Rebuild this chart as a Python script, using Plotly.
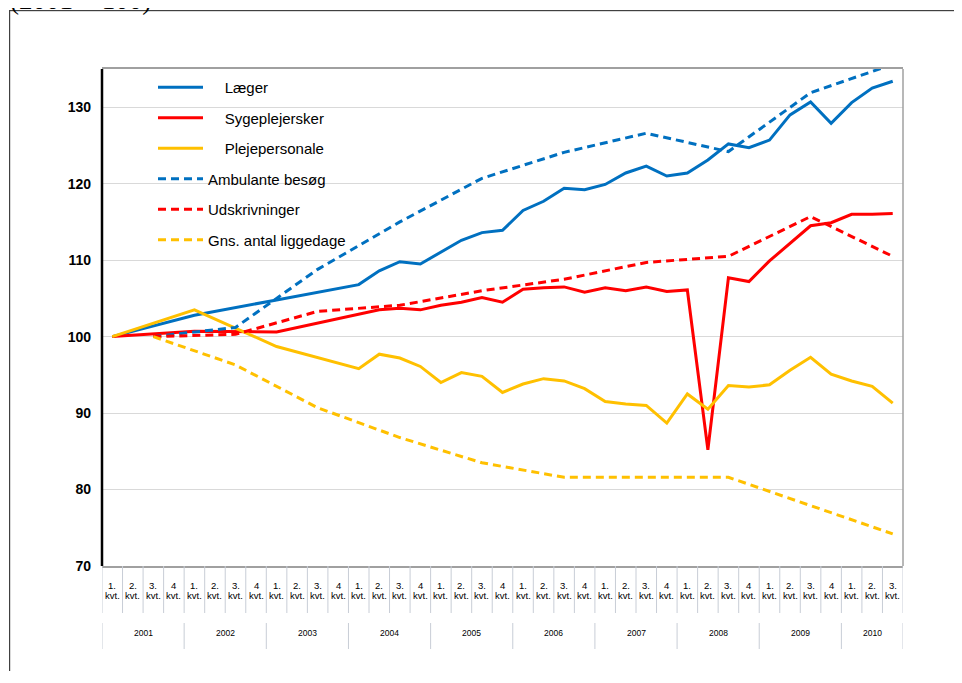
import plotly.graph_objects as go

# ---------------- data ----------------
years = [2001, 2002, 2003, 2004, 2005, 2006, 2007, 2008, 2009, 2010]
quarters_per_year = [4, 4, 4, 4, 4, 4, 4, 4, 4, 3]
quarter_labels = ["1.", "2.", "3.", "4"]
quarter_suffix = "kvt."

laeger = [100, None, None, None, 102.8, None, None, None, 104.8, None, None, None,
          106.8, 108.6, 109.8, 109.5, 111.0, 112.6, 113.6, 113.9, 116.5, 117.7,
          119.4, 119.2, 119.9, 121.4, 122.3, 121.0, 121.4, 123.1, 125.2, 124.7,
          125.7, 129.0, 130.7, 127.9, 130.6, 132.5, 133.4]
sygeplejersker = [100, None, None, None, 100.7, None, None, None, 100.6, None, None, None,
                  103.0, 103.5, 103.7, 103.5, 104.1, 104.5, 105.1, 104.5, 106.2, 106.4,
                  106.5, 105.8, 106.4, 106.0, 106.5, 105.9, 106.1, 85.2, 107.7, 107.2,
                  109.9, 112.2, 114.5, 114.9, 116.0, 116.0, 116.1]
plejepersonale = [100, None, None, None, 103.5, None, None, None, 98.7, None, None, None,
                  95.8, 97.7, 97.2, 96.1, 94.0, 95.3, 94.8, 92.7, 93.8, 94.5,
                  94.2, 93.2, 91.5, 91.2, 91.0, 88.7, 92.5, 90.5, 93.6, 93.4,
                  93.7, 95.6, 97.3, 95.1, 94.2, 93.5, 91.3]
ambulante = [None, None, 100, None, None, None, 101.2, None, None, None, 108.8, None,
             None, None, 115.0, None, None, None, 120.7, None, None, None, 124.1, None,
             None, None, 126.6, None, None, None, 124.2, None, None, None, 131.9, None,
             None, None, 135.6]
udskrivninger = [None, None, 100, None, None, None, 100.3, None, None, None, 103.3, None,
                 None, None, 104.1, None, None, None, 106.0, None, None, None, 107.5, None,
                 None, None, 109.7, None, None, None, 110.5, None, None, None, 115.7, None,
                 None, None, 110.5]
liggedage = [None, None, 100, None, None, None, 96.3, None, None, None, 90.7, None,
             None, None, 86.8, None, None, None, 83.5, None, None, None, 81.6, None,
             None, None, 81.6, None, None, None, 81.6, None, None, None, 77.9, None,
             None, None, 74.2]

series = [
    ("\u00a0\u00a0\u00a0\u00a0Læger", laeger, "#0070C0", "solid"),
    ("\u00a0\u00a0\u00a0\u00a0Sygeplejersker", sygeplejersker, "#FF0000", "solid"),
    ("\u00a0\u00a0\u00a0\u00a0Plejepersonale", plejepersonale, "#FFC000", "solid"),
    ("Ambulante besøg", ambulante, "#0070C0", "8px,5px"),
    ("Udskrivninger", udskrivninger, "#FF0000", "8px,5px"),
    ("Gns. antal liggedage", liggedage, "#FFC000", "8px,5px"),
]

cats = []
for y, nq in zip(years, quarters_per_year):
    for q in range(nq):
        cats.append((y, q))
xs = list(range(len(cats)))

fig = go.Figure()
for k, (name, vals, col, dash) in enumerate(series):
    fig.add_trace(go.Scatter(
        x=xs, y=vals, name=name, mode="lines", connectgaps=True,
        line=dict(color=col, width=3, dash=dash),
        legendgroup=f"g{k}",
    ))

# ---------------- layout geometry (page pixels; figure sits 8px in) ----------------
OFF = 8
W, H = 946, 663
L, R, T, B = 102 - OFF, 903 - OFF, 69 - OFF, 566 - OFF
pw, ph = R - L, B - T


def py(page_y):
    return (B - (page_y - OFF)) / ph


def px(page_x):
    return ((page_x - OFF) - L) / pw


shapes = []
annotations = []
lab_font = dict(family="Liberation Sans, Arial", size=9.5, color="#000")

# quarter dividers and labels
for i in range(len(cats) + 1):
    shapes.append(dict(type="line", xref="x", yref="paper",
                       x0=i - 0.5, x1=i - 0.5, y0=py(566), y1=py(613),
                       line=dict(color="#c8cdd6", width=1), layer="above"))
for i, (y, q) in enumerate(cats):
    annotations.append(dict(x=i, xref="x", y=py(585), yref="paper",
                            yanchor="middle", xanchor="center", showarrow=False,
                            text=quarter_labels[q], font=lab_font))
    annotations.append(dict(x=i, xref="x", y=py(595), yref="paper",
                            yanchor="middle", xanchor="center", showarrow=False,
                            text=quarter_suffix, font=lab_font))

# year dividers and labels
start = 0
bounds = [-0.5]
for y, nq in zip(years, quarters_per_year):
    annotations.append(dict(x=start + (nq - 1) / 2, xref="x", y=py(633), yref="paper",
                            yanchor="middle", xanchor="center", showarrow=False,
                            text=str(y),
                            font=dict(family="Liberation Sans, Arial", size=8.5, color="#000")))
    start += nq
    bounds.append(start - 0.5)
for b in bounds:
    shapes.append(dict(type="line", xref="x", yref="paper",
                       x0=b, x1=b, y0=py(623), y1=py(649),
                       line=dict(color="#c8cdd6", width=1), layer="above"))

# plot area border: right (gray) and left (black)
shapes.append(dict(type="line", xref="paper", yref="paper", x0=1, x1=1, y0=0, y1=1,
                   line=dict(color="#a0a0a0", width=1.5)))
shapes.append(dict(type="line", xref="paper", yref="paper", x0=0, x1=0, y0=0, y1=1,
                   line=dict(color="#000000", width=2.5)))

# outer chart frame drawn as an empty bordered box (extends past the picture edges)
frame_w, frame_h = 1000, 720
annotations.append(dict(x=px(9), xref="paper", y=py(10), yref="paper",
                        xanchor="left", yanchor="top", showarrow=False,
                        text="", width=frame_w, height=frame_h,
                        bordercolor="#404040", borderwidth=1.2, borderpad=0))

# cropped title at very top
annotations.append(dict(x=px(8), xref="paper", y=py(17), yref="paper",
                        xanchor="left", yanchor="bottom", showarrow=False,
                        text="(2001 = 100)",
                        font=dict(family="Liberation Serif, Times New Roman", size=27, color="#000")))

fig.update_layout(
    width=W, height=H,
    margin=dict(l=L, r=W - R, t=T, b=H - B, pad=0),
    paper_bgcolor="white", plot_bgcolor="white",
    showlegend=True,
    legend=dict(x=px(153), y=py(71), xanchor="left", yanchor="top",
                bgcolor="rgba(0,0,0,0)", traceorder="grouped", tracegroupgap=8,
                itemwidth=45,
                font=dict(family="Liberation Sans, Arial", size=15, color="#000")),
    xaxis=dict(range=[-0.5, len(cats) - 0.5], showticklabels=False, showgrid=False,
               zeroline=False, showline=True, linecolor="#a0a0a0", linewidth=1.5,
               mirror=True, ticks=""),
    yaxis=dict(range=[70, 135], dtick=10, tick0=70, showgrid=True, gridcolor="#d9d9d9",
               gridwidth=1.2, zeroline=False, showline=False, ticks="",
               ticklabelstandoff=10,
               tickfont=dict(family="Liberation Sans, Arial", size=14, color="#000", weight="bold")),
    shapes=shapes,
    annotations=annotations,
)

fig.write_html("out.html")
